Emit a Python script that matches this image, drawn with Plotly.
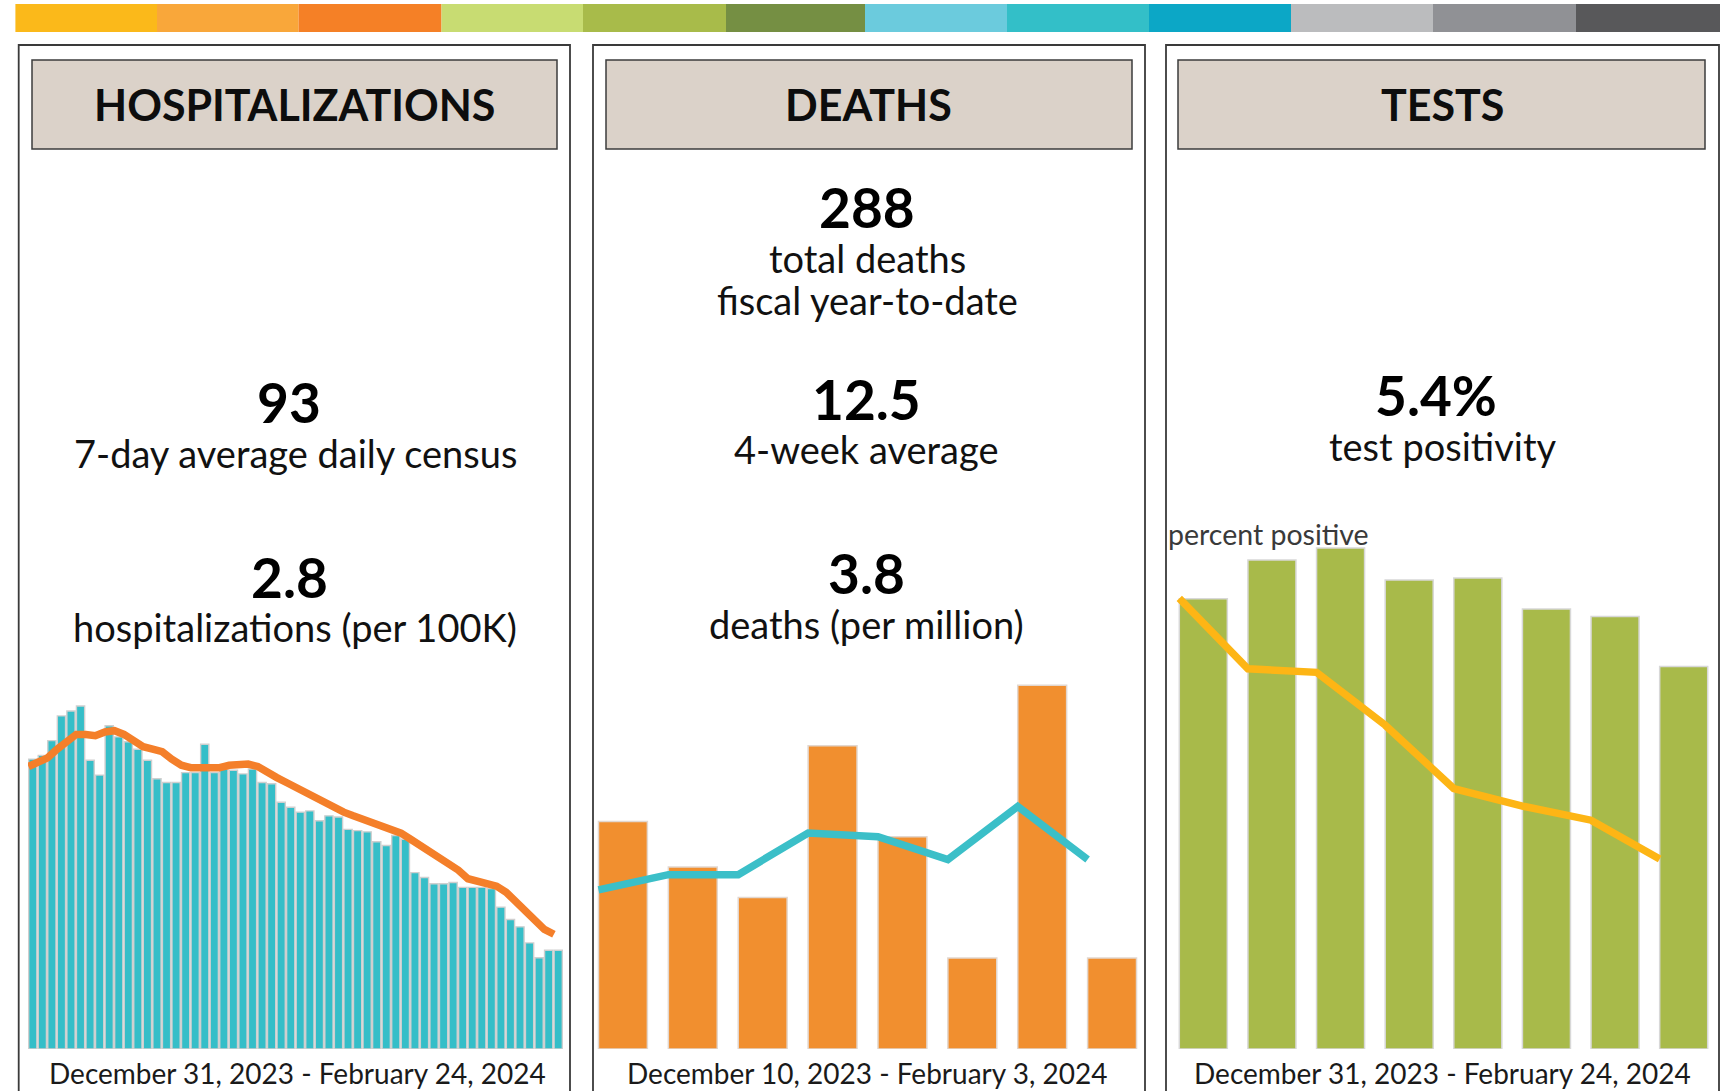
import plotly.graph_objects as go

W, H = 1722, 1091

def px(x):
    return x / W

def py(y):
    return 1 - y / H

# ---------------- DATA ----------------
band_colors = ["#FBB91A", "#F9A73A", "#F58026", "#C8DC72", "#A8BB4A", "#758F43",
               "#6BCBDD", "#33BFC8", "#0CA7C6", "#BBBCBE", "#909195", "#58585A"]

# Hospitalizations: daily census, Dec 31 2023 - Feb 24 2024 (56 days)
hosp_daily = [235, 238, 250, 270, 274, 278, 234, 222, 262, 253, 249, 243, 234, 219,
              216, 216, 224, 224, 247, 224, 227, 226, 223, 227, 216, 215, 200, 196,
              192, 193, 185, 189, 188, 178, 177, 176, 168, 165, 173, 170, 143, 139,
              134, 134, 135, 131, 131, 131, 130, 115, 105, 99, 86, 74, 80, 80]
# 7-day average daily census
hosp_avg = [229, 232, 236, 243, 249, 255, 255, 254, 257, 258, 255, 250, 245, 243,
            241, 235, 230, 228, 228, 227, 228, 230, 230, 231, 229, 224, 220, 216,
            212, 208, 203, 199, 195, 192, 189, 186, 184, 181, 178, 175, 170, 165,
            159, 154, 150, 145, 138, 136, 135, 132, 127, 120, 112, 104, 97, 93]

# Deaths: weekly, Dec 10 2023 - Feb 3 2024 (8 weeks)
deaths_weekly = [15, 12, 10, 20, 14, 6, 24, 6]
deaths_avg4 = [10.5, 11.5, 11.5, 14.25, 14, 12.5, 16, 12.5]

# Tests: weekly, Dec 31 2023 - Feb 24 2024 (8 weeks)
tests_total = [3594, 3904, 4000, 3745, 3760, 3514, 3453, 3054]
tests_pct_pos = [12.8, 10.8, 10.7, 9.2, 7.4, 6.9, 6.5, 5.4]

# Text
headers = ["HOSPITALIZATIONS", "DEATHS", "TESTS"]
date_ranges = ["December 31, 2023 - February 24, 2024",
               "December 10, 2023 - February 3, 2024",
               "December 31, 2023 - February 24, 2024"]

# ---------------- FIGURE ----------------
fig = go.Figure()

hx = [i + 1 for i in range(len(hosp_daily))]
hx_line = [i + 1 - 0.45 for i in range(len(hosp_avg))]
dx = [i + 1 for i in range(len(deaths_weekly))]
dx_line = [i + 1 - 0.35 for i in range(len(deaths_avg4))]
tx = [i + 1 for i in range(len(tests_total))]
tx_line = [i + 1 - 0.35 for i in range(len(tests_pct_pos))]

fig.add_trace(go.Bar(x=hx, y=hosp_daily, width=0.86,
                     marker=dict(color="#35BEC8", line=dict(color="#CFCFCF", width=1.4)),
                     xaxis="x", yaxis="y", showlegend=False))
fig.add_trace(go.Scatter(x=hx_line, y=hosp_avg, mode="lines", line=dict(color="#F47F2A", width=7.5),
                         xaxis="x", yaxis="y", showlegend=False))

fig.add_trace(go.Bar(x=dx, y=deaths_weekly, width=0.7,
                     marker=dict(color="#F18F2F", line=dict(color="#E2D7CF", width=1.5)),
                     xaxis="x2", yaxis="y2", showlegend=False))
fig.add_trace(go.Scatter(x=dx_line, y=deaths_avg4, mode="lines", line=dict(color="#3BBFC8", width=7.5),
                         xaxis="x2", yaxis="y2", showlegend=False))

fig.add_trace(go.Bar(x=tx, y=tests_total, width=0.7,
                     marker=dict(color="#A8BA4A", line=dict(color="#D8D8D8", width=1.5)),
                     xaxis="x3", yaxis="y3", showlegend=False))
fig.add_trace(go.Scatter(x=tx_line, y=tests_pct_pos, mode="lines", line=dict(color="#FDB515", width=7.5),
                         xaxis="x3", yaxis="y4", showlegend=False))

hidden = dict(visible=False, showgrid=False, zeroline=False, fixedrange=True)

layout = dict(
    width=W, height=H,
    margin=dict(l=0, r=0, t=0, b=0),
    paper_bgcolor="white", plot_bgcolor="rgba(0,0,0,0)",
    font=dict(family="Lato", color="#111111"),
    xaxis=dict(hidden, domain=[px(28), px(563)], range=[0.5, len(hosp_daily) + 0.5], anchor="y"),
    yaxis=dict(hidden, domain=[py(1049), py(690)], range=[0, 291], anchor="x"),
    xaxis2=dict(hidden, domain=[px(588), px(1147)], range=[0.5, len(deaths_weekly) + 0.5], anchor="y2"),
    yaxis2=dict(hidden, domain=[py(1049), py(670)], range=[0, 25], anchor="x2"),
    xaxis3=dict(hidden, domain=[px(1169), px(1718)], range=[0.5, len(tests_total) + 0.5], anchor="y3"),
    yaxis3=dict(hidden, domain=[py(1049), py(540)], range=[0, 4064], anchor="x3"),
    yaxis4=dict(hidden, domain=[py(1049), py(540)], range=[0, 14.46], anchor="x3", overlaying="y3"),
)
fig.update_layout(**layout)
fig.update_layout(barmode="overlay")

shapes = []
# top colour band
edges = [15.4, 157, 298.6, 441.5, 583, 726, 865, 1007, 1149, 1291, 1433, 1576, 1720]
for i, c in enumerate(band_colors):
    shapes.append(dict(type="rect", xref="paper", yref="paper", x0=px(edges[i]), x1=px(edges[i + 1]),
                       y0=py(32), y1=py(4), fillcolor=c, line=dict(width=0), layer="below"))

panels = [(18.7, 570), (593, 1145), (1166, 1719)]
header_boxes = [(32, 557), (606, 1132), (1178, 1705)]
for (a, b) in panels:
    shapes.append(dict(type="rect", xref="paper", yref="paper", x0=px(a), x1=px(b), y0=py(1100), y1=py(45),
                       line=dict(color="#3a3a3a", width=1.8), fillcolor="rgba(0,0,0,0)", layer="above"))
for (a, b) in header_boxes:
    shapes.append(dict(type="rect", xref="paper", yref="paper", x0=px(a), x1=px(b), y0=py(149), y1=py(60),
                       line=dict(color="#3c3c3c", width=1.5), fillcolor="#DBD2C9", layer="below"))
fig.update_layout(shapes=shapes)

ann = []

def txt(text, x, y, size, bold=False, color="#111111", xanchor="center"):
    ann.append(dict(text=("<b>%s</b>" % text) if bold else text, x=px(x), y=py(y), xref="paper", yref="paper",
                    showarrow=False, xanchor=xanchor, yanchor="middle",
                    font=dict(size=size, color=color, family="Lato")))

header_cx = [294, 869, 1442]
for h, cx in zip(headers, header_cx):
    txt(h, cx, 105, 43, bold=True, color="#0d0d0d")

NUM = 55
LAB = 38
# Hospitalizations
txt("93", 289, 402, NUM, bold=True, color="#000000")
txt("7-day average daily census", 295, 453, LAB)
txt("2.8", 289, 577, NUM, bold=True, color="#000000")
txt("hospitalizations (per 100K)", 295, 627, LAB)
# Deaths
txt("288", 867, 207, NUM, bold=True, color="#000000")
txt("total deaths", 867, 258, LAB)
txt("fiscal year-to-date", 867, 300, LAB)
txt("12.5", 866, 399, NUM, bold=True, color="#000000")
txt("4-week average", 866, 449, LAB)
txt("3.8", 866, 573, NUM, bold=True, color="#000000")
txt("deaths (per million)", 866, 624, LAB)
# Tests
txt("5.4%", 1436, 395, NUM, bold=True, color="#000000")
txt("test positivity", 1443, 446, LAB)
txt("percent positive", 1166, 534, 28.5, color="#3a3a3a", xanchor="left")

bottom_cx = [297, 867, 1442]
for t, cx in zip(date_ranges, bottom_cx):
    txt(t, cx, 1073, 28, color="#1a1a1a")

fig.update_layout(annotations=ann)

fig.write_html("out.html", config={"displayModeBar": False, "staticPlot": True},
               post_script="document.body.style.margin='0';document.body.style.overflow='hidden';")
